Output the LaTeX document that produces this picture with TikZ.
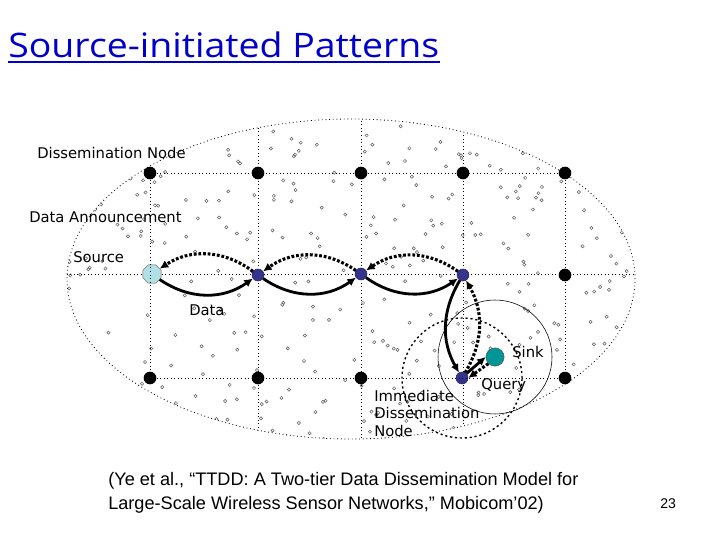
\documentclass[tikz,border=0pt]{standalone}
\usepackage{fontspec}
\setmainfont{DejaVu Sans}
\newfontfamily\titlefont[FakeStretch=1.11]{Open Sans}
\newfontfamily\citefont{Liberation Sans}
\usetikzlibrary{arrows.meta,shapes.geometric}

\definecolor{titleblue}{RGB}{0,0,204}
\definecolor{gridblue}{RGB}{52,52,140}
\definecolor{sourcecyan}{RGB}{176,224,230}
\definecolor{sinkteal}{RGB}{0,150,150}

\tikzset{
  dnode/.style={circle,fill=black,inner sep=0pt,minimum size=9pt},
  bnode/.style={circle,fill=gridblue,draw=gridblue!70!black,inner sep=0pt,minimum size=8.5pt},
  srcnode/.style={regular polygon,regular polygon sides=8,fill=sourcecyan,draw=gray!70!black,
    line width=0.3pt,inner sep=0pt,minimum size=14pt},
  sinknode/.style={circle,fill=sinkteal,draw=black!70,line width=0.3pt,inner sep=0pt,minimum size=13pt},
  grid line/.style={dotted,line width=0.5pt},
  data arrow/.style={-{Latex[length=6pt,width=6pt]},line width=2pt},
  announce arrow/.style={-{Latex[length=6pt,width=6pt]},line width=2.2pt,dash pattern=on 2pt off 1.3pt},
  lbl/.style={anchor=west,inner sep=0pt,font=\fontsize{10.5}{12}\selectfont},
}

\begin{document}
\begin{tikzpicture}[x=0.025cm,y=0.025cm]
  \useasboundingbox (0,0) rectangle (720,540);

  % sensor field
  \begin{scope}
    \clip (351,261) ellipse [x radius=284, y radius=160];
    \pgfmathsetseed{11}
    \foreach \k in {1,...,360}{
      \pgfmathsetmacro{\sx}{351+284*rand}
      \pgfmathsetmacro{\sy}{261+160*rand}
      \draw[gray!70!black,line width=0.35pt] (\sx,\sy) circle [radius=1.6];
    }
    \draw[grid line] (0,266) -- (720,266);
    \foreach \gx in {258,361,463}
      \draw[grid line] (\gx,0) -- (\gx,540);
  \end{scope}
  \draw[dotted,line width=0.6pt] (351,261) ellipse [x radius=284, y radius=160];

  % dissemination nodes
  \node[dnode] (dn top 1) at (150,367) {};
  \node[dnode] (dn top 2) at (258,367) {};
  \node[dnode] (dn top 3) at (361,367) {};
  \node[dnode] (dn top 4) at (463,367) {};
  \node[dnode] (dn top 5) at (565,367) {};
  \node[srcnode] (source) at (152,266) {};
  \node[bnode] (dn mid 2) at (258,265) {};
  \node[bnode] (dn mid 3) at (361,266) {};
  \node[bnode] (dn mid 4) at (463,265) {};
  \node[dnode] (dn mid 5) at (565,265) {};
  \node[dnode] (dn bot 1) at (150,162) {};
  \node[dnode] (dn bot 2) at (258,162) {};
  \node[dnode] (dn bot 3) at (361,162) {};
  \node[bnode] (immediate) at (462,162) {};
  \node[dnode] (dn bot 5) at (565,162) {};
  \node[sinknode] (sink) at (495,183) {};

  \draw[grid line] (dn top 1) -- (dn top 5);
  \draw[grid line] (dn bot 1) -- (dn bot 5);
  \draw[grid line] (dn top 1) -- (dn bot 1);
  \draw[grid line] (dn top 5) -- (dn bot 5);

  % sink and immediate node ranges
  \draw[line width=0.4pt] (sink) circle [radius=57];
  \draw[line width=1pt,dash pattern=on 1.5pt off 2pt] (immediate) circle [radius=60];

  % data forwarding
  \draw[data arrow] (source) to[bend right=35] (dn mid 2);
  \draw[data arrow] (dn mid 2) to[bend right=35] (dn mid 3);
  \draw[data arrow] (dn mid 3) to[bend right=35] (dn mid 4);
  \draw[data arrow] (dn mid 4) to[bend right=30] (immediate);
  \draw[data arrow] (immediate.north east) -- (sink.west);

  % announcements and queries
  \draw[announce arrow] (dn mid 2) to[bend right=35] (source);
  \draw[announce arrow] (dn mid 3) to[bend right=35] (dn mid 2);
  \draw[announce arrow] (dn mid 4) to[bend right=35] (dn mid 3);
  \draw[announce arrow] (immediate) to[bend right=30] (dn mid 4);
  \draw[announce arrow] (sink.south west) -- (immediate.east);

  % labels
  \node[lbl] (lbl dissemination) at (37,387) {Dissemination Node};
  \node[lbl] (lbl announcement) at (29,323) {Data Announcement};
  \node[lbl] (lbl source) at (73,283) {Source};
  \node[lbl] (lbl data) at (189,230) {Data};
  \node[lbl] (lbl sink) at (512,188) {Sink};
  \node[lbl] (lbl query) at (481,154) {Query};
  \node[lbl,anchor=north west,align=left,font=\fontsize{10.5}{12.4}\selectfont]
    (lbl immediate) at (374,150) {Immediate\\Dissemination\\Node};

  % title and footer
  \node[anchor=base west,inner sep=0pt,text=titleblue,font=\titlefont\fontsize{24}{28}\selectfont]
    (title) at (8,482) {Source-initiated Patterns};
  \draw[titleblue,line width=1.4pt] ([yshift=-3pt]title.base west) -- ([yshift=-3pt]title.base east);
  \node[anchor=north west,align=left,inner sep=0pt,font=\citefont\fontsize{12.9}{17.2}\selectfont]
    (citation) at (108,68) {(Ye et al., “TTDD: A Two-tier Data Dissemination Model for\\
    Large-Scale Wireless Sensor Networks,” Mobicom’02)};
  \node[anchor=base west,inner sep=0pt,font=\citefont\fontsize{10}{12}\selectfont]
    (page) at (660,32) {23};
\end{tikzpicture}
\end{document}
